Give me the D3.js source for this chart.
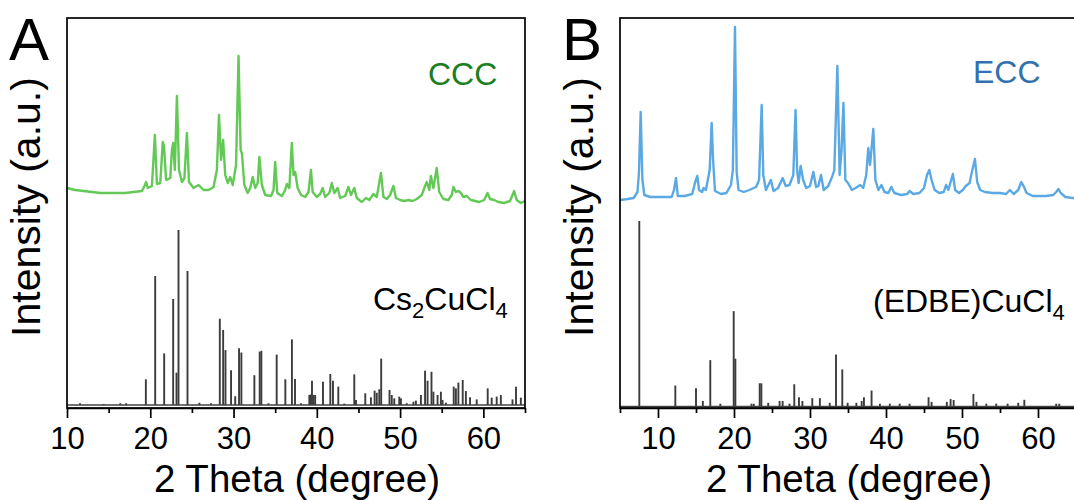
<!DOCTYPE html>
<html>
<head>
<meta charset="utf-8">
<script src="https://cdn.jsdelivr.net/npm/d3@7"></script>
<style>
  html, body { margin: 0; padding: 0; background: #fff; }
  svg { display: block; font-family: "Liberation Sans", Arial, sans-serif; }
</style>
</head>
<body>
<svg id="chart" width="1074" height="501"></svg>
<script>
// 1. DATA: [2 theta, intensity a.u.]
const cccPattern = [
  [10.0, 17], [11, 15], [12, 14], [13, 13], [14, 12], [15, 12], [16, 12], [17, 12], [18, 13], [19, 14],
  [19.3, 19], [19.5, 23], [19.7, 17], [20.2, 19], [20.55, 70], [20.8, 21], [21.2, 22], [21.5, 63], [21.65, 59],
  [21.9, 25], [22.4, 27], [22.6, 55], [22.75, 62], [22.95, 35], [23.2, 109], [23.45, 35], [23.8, 23], [24.1, 27],
  [24.4, 72], [24.65, 23], [25.2, 17], [25.8, 20], [26.4, 15], [27, 15], [27.6, 18], [28.0, 35], [28.25, 90],
  [28.5, 45], [28.75, 65], [29.0, 30], [29.3, 22], [29.6, 28], [29.9, 20], [30.3, 40], [30.6, 149], [30.85, 55],
  [31.0, 52], [31.3, 20], [31.7, 12], [32.0, 17], [32.3, 28], [32.6, 17], [32.9, 22], [33.1, 48], [33.4, 20],
  [33.8, 10], [34.5, 9], [34.8, 15], [35.0, 43], [35.25, 12], [35.8, 9], [36.2, 15], [36.4, 21], [36.7, 17],
  [37.0, 62], [37.2, 30], [37.4, 33], [37.7, 17], [38.1, 10], [38.6, 8], [39.0, 13], [39.3, 35], [39.5, 13],
  [40.0, 8], [40.4, 11], [40.7, 17], [41.0, 8], [41.5, 12], [41.8, 22], [42.1, 12], [42.5, 17], [42.8, 7],
  [43.4, 9], [43.8, 18], [44.1, 10], [44.5, 17], [44.8, 7], [45.4, 3], [45.9, 7], [46.3, 5], [46.8, 11],
  [47.2, 8], [47.7, 32], [48.0, 8], [48.4, 6], [48.8, 10], [49.2, 19], [49.5, 7], [50, 5], [50.5, 4], [51, 5],
  [51.5, 4], [52, 6], [52.6, 10], [53.0, 19], [53.2, 23], [53.5, 15], [53.7, 29], [54.0, 17], [54.4, 37],
  [54.7, 13], [55.2, 6], [55.8, 5], [56.2, 10], [56.4, 18], [56.7, 13], [57.0, 14], [57.3, 12], [57.6, 8],
  [58.0, 9], [58.5, 5], [59, 4], [59.5, 3], [60.1, 5], [60.5, 12], [60.8, 6], [61.3, 5], [61.8, 3], [62.5, 2],
  [63.2, 4], [63.7, 14], [64.0, 5], [64.5, 2], [65, 4]
];

const eccPattern = [
  [5.0, 5], [6.0, 6], [6.8, 7], [7.3, 13], [7.5, 33], [7.72, 93], [7.95, 25], [8.2, 10], [9, 8], [10, 8],
  [11, 8], [11.8, 8], [12.1, 15], [12.37, 27], [12.6, 9], [13.5, 9], [14.5, 11], [14.9, 23], [15.17, 29],
  [15.4, 15], [15.8, 13], [16.0, 17], [16.3, 15], [16.8, 35], [17.06, 82], [17.25, 45], [17.5, 14], [18.3, 11],
  [19.0, 12], [19.6, 20], [19.85, 35], [20.13, 178], [20.35, 33], [20.6, 15], [21.3, 13], [22.0, 15], [22.6, 17],
  [22.9, 18], [23.3, 25], [23.64, 100], [23.85, 30], [24.2, 15], [24.85, 25], [25.2, 14], [25.8, 17], [26.4, 27],
  [26.8, 19], [27.3, 20], [27.8, 30], [28.1, 95], [28.3, 35], [28.5, 22], [28.77, 39], [29.1, 25], [29.5, 17],
  [30.0, 19], [30.44, 33], [30.8, 18], [31.1, 19], [31.45, 30], [31.8, 15], [32.4, 19], [32.9, 28], [33.2, 35],
  [33.6, 139], [33.9, 30], [34.15, 55], [34.4, 102], [34.65, 25], [35.0, 22], [35.5, 15], [36.0, 17], [36.6, 20],
  [37.0, 17], [37.4, 30], [37.67, 57], [37.9, 40], [38.33, 76], [38.6, 25], [39.0, 15], [39.4, 20], [39.8, 13],
  [40.3, 12], [40.7, 18], [41.1, 12], [42, 10], [42.8, 11], [43.1, 14], [43.6, 11], [44.4, 12], [45.0, 17],
  [45.4, 30], [45.7, 35], [46.0, 25], [46.4, 15], [47.0, 12], [47.6, 13], [47.9, 20], [48.2, 15], [48.8, 31],
  [49.1, 15], [49.6, 12], [50.1, 15], [50.5, 19], [51.0, 22], [51.3, 33], [51.7, 46], [52.0, 23], [52.4, 15],
  [53, 13], [54, 12], [55, 12], [55.8, 11], [56.3, 15], [56.8, 11], [57.4, 15], [57.8, 23], [58.1, 19],
  [58.5, 12], [59.3, 9], [60, 9], [61, 9], [62, 10], [62.4, 13], [62.7, 16], [63.0, 12], [63.6, 8], [64.5, 7], [65, 7]
];

// simulated patterns: [2 theta, relative intensity %]
const cs2cucl4Sticks = [
  [11.56, 1], [14.4, 0.5], [16.4, 1], [17.1, 1], [19.47, 14.7], [20.59, 73.7], [21.67, 29.5], [22.75, 60.6],
  [23.15, 18.5], [23.39, 100], [24.47, 76.6], [25.9, 1.3], [27.3, 1], [28.35, 49.3], [28.75, 42.9], [29.03, 31.4],
  [29.7, 19.8], [30.2, 5], [30.66, 32.4], [30.94, 30], [32.5, 17], [33.14, 30.5], [33.34, 31], [34.2, 1],
  [35.18, 28.8], [36.22, 14.7], [37.01, 37.5], [37.38, 14.9], [38.1, 1], [39.1, 5.7], [39.25, 6], [39.42, 13.9],
  [39.6, 5.7], [39.8, 5.7], [40.74, 13.3], [41.62, 17.7], [41.94, 13.9], [42.58, 10.5], [43.3, 0.8], [44.5, 17.5],
  [44.7, 2.8], [45.82, 6.7], [46.5, 4.4], [46.94, 8.2], [47.2, 7], [47.5, 9], [47.73, 26.5], [48.73, 8.6],
  [49.0, 5.7], [49.3, 3.8], [49.9, 4.8], [50.1, 3.8], [50.8, 1], [51.6, 1.9], [51.9, 2.5], [52.5, 5.7],
  [53.0, 19.6], [53.3, 13.9], [53.77, 19], [54.0, 7.6], [54.5, 5.7], [54.9, 7.6], [55.1, 2.9], [55.5, 1.3],
  [56.44, 10.5], [56.7, 9.5], [57.0, 12.8], [57.52, 14.3], [57.9, 8], [58.4, 4.4], [59.2, 3.2], [60.52, 9.5],
  [61.0, 4.2], [61.6, 4.8], [62.1, 5.7], [63.5, 3.2], [63.92, 10.5], [64.5, 4.2]
];

const edbeSticks = [
  [7.54, 100], [12.28, 11.3], [15.0, 9.9], [15.9, 3], [16.88, 25], [18.2, 1.5], [19.96, 51.4], [20.18, 25.8],
  [22.3, 1.5], [22.6, 1.5], [23.38, 12.5], [23.6, 12.5], [24.5, 2], [26.0, 3], [26.4, 3], [27.3, 1.5],
  [27.93, 12], [28.55, 5], [29.0, 3], [30.3, 4.5], [31.3, 4.5], [32.6, 2], [33.42, 28], [34.25, 20],
  [34.95, 2], [36.1, 2], [36.8, 3], [37.1, 5], [38.1, 8.6], [39.2, 1.5], [40.5, 1.5], [41.8, 1.5], [43.1, 1.5],
  [45.6, 5], [46.0, 2.5], [48.0, 2.5], [48.5, 4], [48.9, 3.5], [51.5, 6.8], [51.9, 2.5], [53.2, 1.5],
  [54.5, 1.5], [56.0, 1.5], [57.4, 2], [58.2, 3.6], [62.4, 1.5], [62.8, 1.5]
];

const panelA = { letter: "A", xDomain: [10, 65], majorTicks: [10, 20, 30, 40, 50, 60], minorTicks: [15, 25, 35, 45, 55, 65] };
const panelB = { letter: "B", xDomain: [5, 65], majorTicks: [10, 20, 30, 40, 50, 60], minorTicks: [5, 15, 25, 35, 45, 55, 65] };

// 2. LAYOUT
const svg = d3.select("#chart");
const plotTop = 18, plotBottom = 408;
const black = "#000";

const drawPanel = (cfg, left, right, pattern, patternColor, label, labelColor, labelPos,
                   sticks, stickBase, stickTop, phase, phasePos) => {
  const x = d3.scaleLinear().domain(cfg.xDomain).range([left, right]);
  const yExp = d3.scaleLinear().domain([0, 150]).range([205, 55]);
  const ySim = d3.scaleLinear().domain([0, 100]).range([stickBase, stickTop]);

  const g = svg.append("g");

  // simulated sticks + their zero line
  g.append("line")
    .attr("x1", x(cfg.xDomain[0])).attr("x2", x(cfg.xDomain[1]))
    .attr("y1", ySim(0)).attr("y2", ySim(0))
    .attr("stroke", "#444").attr("stroke-width", 1.3);

  g.append("g").selectAll("line")
    .data(sticks)
    .join("line")
    .attr("x1", d => x(d[0])).attr("x2", d => x(d[0]))
    .attr("y1", ySim(0)).attr("y2", d => ySim(d[1]))
    .attr("stroke", "#3c3c3c").attr("stroke-width", 1.9);

  // measured pattern
  const line = d3.line().x(d => x(d[0])).y(d => yExp(d[1]));
  g.append("path")
    .datum(pattern)
    .attr("d", line)
    .attr("fill", "none")
    .attr("stroke", patternColor)
    .attr("stroke-width", 2.4)
    .attr("stroke-linejoin", "round");

  // frame
  g.append("rect")
    .attr("x", left).attr("y", plotTop)
    .attr("width", right - left).attr("height", plotBottom - plotTop)
    .attr("fill", "none").attr("stroke", black).attr("stroke-width", 1.7);

  // x axis: major + minor ticks
  const axis = g.append("g")
    .attr("transform", `translate(0,${plotBottom})`)
    .call(d3.axisBottom(x).tickValues(cfg.majorTicks).tickSize(10).tickPadding(9).tickSizeOuter(0));
  axis.select(".domain").attr("stroke-width", 1.7);
  axis.selectAll(".tick line").attr("stroke-width", 1.7);
  axis.selectAll(".tick text")
    .attr("font-size", 31)
    .attr("font-family", "Liberation Sans, Arial, sans-serif")
    .attr("fill", black);

  g.append("g")
    .attr("transform", `translate(0,${plotBottom})`)
    .call(d3.axisBottom(x).tickValues(cfg.minorTicks).tickSize(5).tickFormat("").tickSizeOuter(0))
    .call(a => a.select(".domain").remove())
    .selectAll(".tick line").attr("stroke-width", 1.7);

  // axis titles
  g.append("text")
    .attr("x", (left + right) / 2 + 1).attr("y", 492)
    .attr("text-anchor", "middle")
    .attr("font-size", 38.5)
    .text("2 Theta (degree)");

  g.append("text")
    .attr("transform", `translate(${left - 27},${207}) rotate(-90)`)
    .attr("text-anchor", "middle")
    .attr("font-size", 41)
    .text("Intensity (a.u.)");

  // panel letter
  g.append("text")
    .attr("x", left - 58).attr("y", 60)
    .attr("font-size", 60)
    .text(cfg.letter);

  // series labels
  g.append("text")
    .attr("x", labelPos[0]).attr("y", labelPos[1])
    .attr("font-size", 32)
    .attr("fill", labelColor)
    .text(label);

  const t = g.append("text")
    .attr("x", phasePos[0]).attr("y", phasePos[1])
    .attr("font-size", 32);
  phase.forEach(p => {
    t.append("tspan")
      .attr("font-size", p.sub ? 22 : 32)
      .attr("dy", p.sub ? 8 : (p.after ? -8 : 0))
      .text(p.s);
  });
};

drawPanel(panelA, 67, 525, cccPattern, "#62c955", "CCC", "#1a7f1e", [428, 85],
  cs2cucl4Sticks, 405, 230,
  [{ s: "Cs" }, { s: "2", sub: true }, { s: "CuCl", after: true }, { s: "4", sub: true }], [373, 310]);

drawPanel(panelB, 620, 1076, eccPattern, "#5aa9e4", "ECC", "#3271b0", [973, 83],
  edbeSticks, 406.5, 221,
  [{ s: "(EDBE)CuCl" }, { s: "4", sub: true }], [873, 312]);
</script>
</body>
</html>
